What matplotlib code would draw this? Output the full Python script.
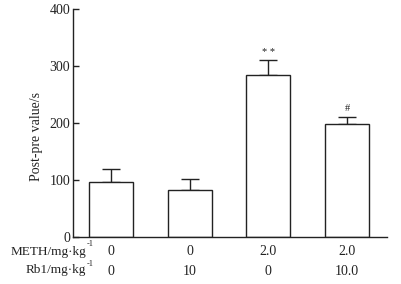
import matplotlib
matplotlib.use("Agg")
import matplotlib.pyplot as plt

groups = [0, 1, 2, 3]
values = [97, 82, 284, 199]
errors = [22, 19, 26, 12]
meth = ["0", "0", "2.0", "2.0"]
rb1 = ["0", "10", "0", "10.0"]
marks = ["", "", "* *", "#"]
yticks = [0, 100, 200, 300, 400]

plt.rcParams['font.family'] = ['Liberation Serif', 'DejaVu Serif']
fig = plt.figure(figsize=(4.01, 2.84), dpi=100)
ax = fig.add_axes([73/401, 1-237/284, 314/401, 228/284])

ax.bar(groups, values, width=0.56, color='white', edgecolor='#222222', linewidth=1.0, zorder=2)
ax.errorbar(groups, values, yerr=[[0]*4, errors], fmt='none', ecolor='#222222',
            elinewidth=1.0, capsize=6.5, capthick=1.0, zorder=1)
for g, v, e, m in zip(groups, values, errors, marks):
    if m:
        ax.text(g, v + e + 6, m, ha='center', va='bottom', fontsize=7.5, color='#222222')

ax.set_xlim(-0.483, 3.508)
ax.set_ylim(0, 400)
ax.set_yticks(yticks)
ax.set_xticks([])
ax.tick_params(axis='y', direction='in', length=4, width=1, labelsize=10, pad=2, colors='#222222')
for s in ['top', 'right']:
    ax.spines[s].set_visible(False)
for s in ['left', 'bottom']:
    ax.spines[s].set_linewidth(1.0)
    ax.spines[s].set_color('#222222')
ax.set_ylabel("Post-pre value/s", fontsize=10, color='#222222')
ax.yaxis.set_label_coords(-0.095, 0.44)

trans = ax.get_xaxis_transform()
for g, a, b in zip(groups, meth, rb1):
    ax.text(g, -0.064, a, transform=trans, ha='center', va='center', fontsize=10, color='#222222')
    ax.text(g, -0.151, b, transform=trans, ha='center', va='center', fontsize=10, color='#222222')

fig.text(86/401, 1-254.5/284, "METH/mg\u00b7kg", ha='right', va='baseline', fontsize=9.5, color='#222222')
fig.text(87/401, 1-245.5/284, "-1", ha='left', va='baseline', fontsize=6, color='#222222')
fig.text(86/401, 1-273.5/284, "Rb1/mg\u00b7kg", ha='right', va='baseline', fontsize=9.5, color='#222222')
fig.text(87/401, 1-266/284, "-1", ha='left', va='baseline', fontsize=6, color='#222222')

fig.savefig("out.png", dpi=100)
